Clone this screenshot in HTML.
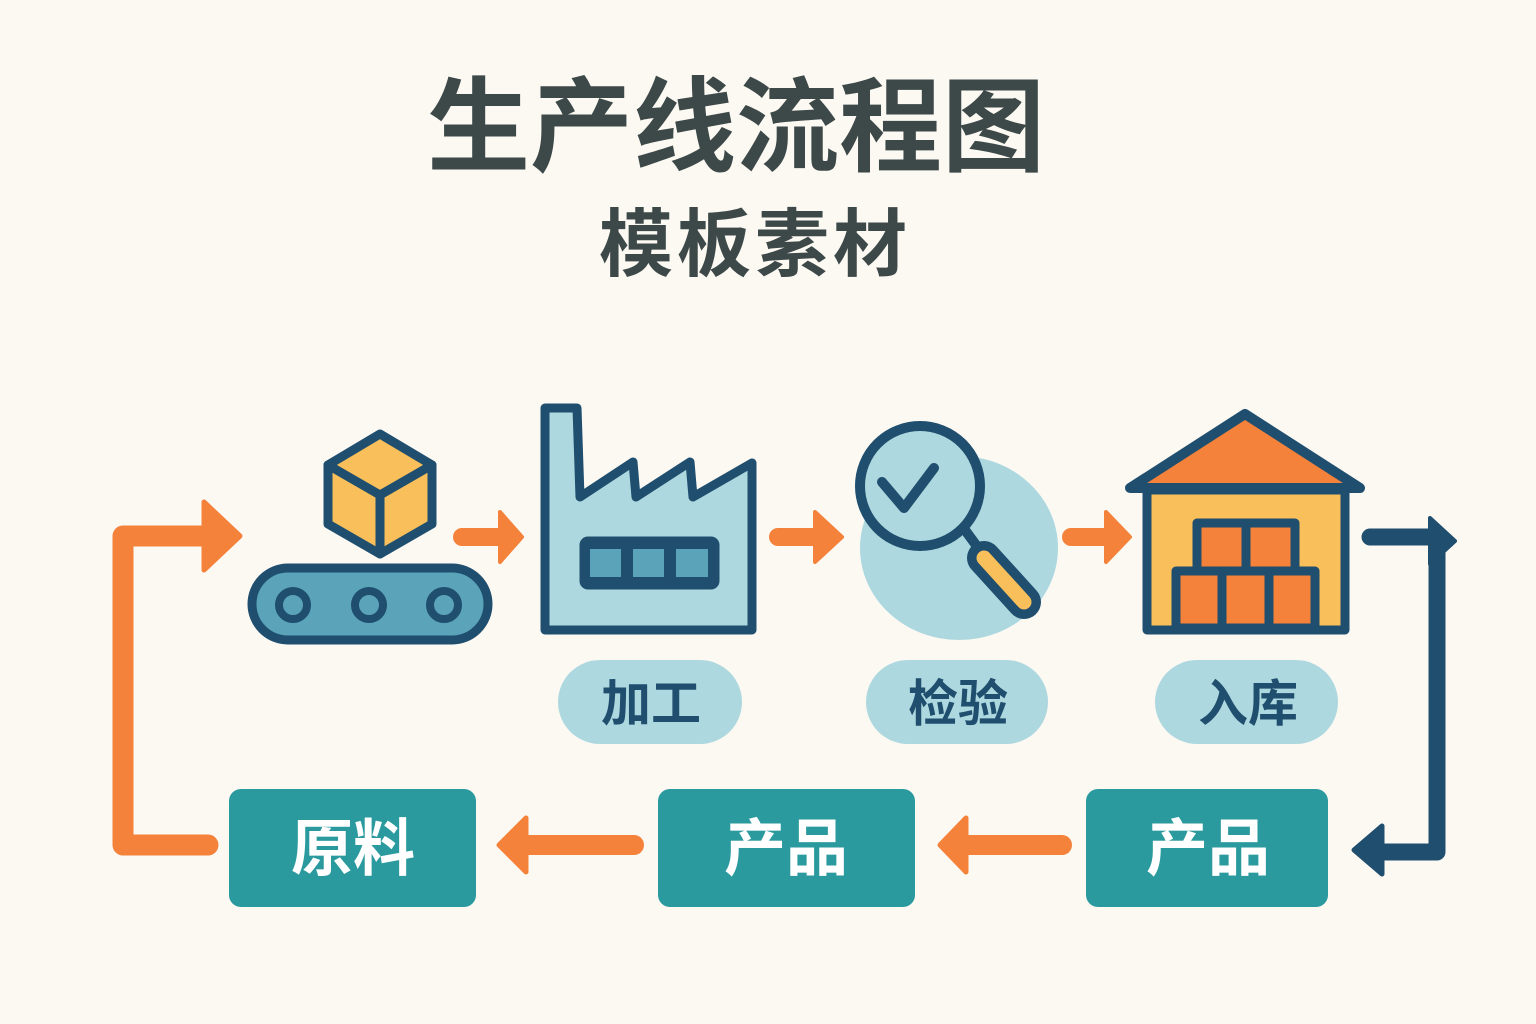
<!DOCTYPE html>
<html><head><meta charset="utf-8"><style>
html,body{margin:0;padding:0;background:#fcf9f3;}
svg{display:block;}
text{font-family:"Liberation Sans","Noto Sans CJK SC",sans-serif;font-weight:bold;}
</style></head><body>
<svg width="1536" height="1024" viewBox="0 0 1536 1024" xmlns="http://www.w3.org/2000/svg">
<rect width="1536" height="1024" fill="#fcf9f3"/>
<text x="736" y="163" font-size="103" fill="#3d4848" text-anchor="middle">生产线流程图</text>
<text x="755" y="270" font-size="74" fill="#3d4848" text-anchor="middle" letter-spacing="4">模板素材</text>

<!-- conveyor + box -->
<g stroke="#1f4e6e" stroke-linejoin="round" stroke-linecap="round">
<rect x="252" y="568" width="236" height="72" rx="36" fill="#5aa3b8" stroke-width="9"/>
<g fill="#5aa3b8" stroke-width="8"><circle cx="293" cy="605" r="14"/><circle cx="369" cy="605" r="14"/><circle cx="444" cy="605" r="14"/></g>
<polygon points="380,434 432,465 432,524 380,554 328,524 328,465" fill="#f9bf5a" stroke-width="9"/>
<polyline points="328,465 380,495 432,465" fill="none" stroke-width="9"/>
<line x1="380" y1="495" x2="380" y2="554" stroke-width="9"/>
</g>

<!-- factory -->
<g stroke="#1f4e6e" stroke-linejoin="round" stroke-width="9">
<polygon points="545,408 577,408 580,497 633,462 636,497 690,462 693,497 752,463 752,630 545,630" fill="#aed8df"/>
<rect x="584" y="541" width="131" height="44" rx="4" fill="#1f4e6e"/>
<g fill="#5aa3b8" stroke="none"><rect x="590" y="549" width="31" height="28"/><rect x="633" y="549" width="31" height="28"/><rect x="676" y="549" width="32" height="28"/></g>
</g>

<!-- magnifier -->
<ellipse cx="959" cy="548" rx="99" ry="92" fill="#aed8df"/>
<g stroke="#1f4e6e" stroke-linecap="round" stroke-linejoin="round">
<circle cx="920" cy="486" r="60" fill="#aed8df" stroke-width="10"/>
<polyline points="882,482 904,508 934,468" fill="none" stroke-width="10"/>
<line x1="965" y1="530" x2="976" y2="545" stroke-width="10"/>
<line x1="984" y1="558" x2="1024" y2="602" stroke-width="34"/>
<line x1="984" y1="558" x2="1024" y2="602" stroke="#f9bf5a" stroke-width="15"/>
</g>

<!-- warehouse -->
<g stroke="#1f4e6e" stroke-linejoin="round" stroke-width="9">
<rect x="1147" y="490" width="198" height="140" fill="#f9bf5a"/>
<polygon points="1245,414 1360,488 1130,488" fill="#f4823a" stroke-width="10"/>
<g fill="#f4823a">
<rect x="1197" y="523" width="98" height="48" />
<line x1="1246" y1="523" x2="1246" y2="571"/>
<rect x="1176" y="571" width="139" height="57"/>
<line x1="1222" y1="571" x2="1222" y2="628"/><line x1="1269" y1="571" x2="1269" y2="628"/>
</g>
</g>

<!-- orange arrows top -->
<g stroke="#f4823a" stroke-width="18" stroke-linecap="round" fill="#f4823a">
<line x1="462" y1="537" x2="505" y2="537"/>
<line x1="778" y1="537" x2="822" y2="537"/>
<line x1="1071" y1="537" x2="1113" y2="537"/>
</g>
<g fill="#f4823a" stroke="#f4823a" stroke-width="4" stroke-linejoin="round">
<polygon points="500,512 522,537 500,562"/>
<polygon points="815,512 842,537 815,562"/>
<polygon points="1106,512 1130,537 1106,562"/>
</g>

<!-- left loop -->
<polyline points="208,845 123,845 123,536 205,536" fill="none" stroke="#f4823a" stroke-width="21" stroke-linejoin="round" stroke-linecap="round"/>
<polygon points="204,502 240,536 204,570" fill="#f4823a" stroke="#f4823a" stroke-width="5" stroke-linejoin="round"/>

<!-- right loop dark -->
<polyline points="1370,537 1437,537 1437,852 1385,852" fill="none" stroke="#1f4e6e" stroke-width="17" stroke-linejoin="round" stroke-linecap="round"/>
<polygon points="1430,518 1455,541 1430,564" fill="#1f4e6e" stroke="#1f4e6e" stroke-width="4" stroke-linejoin="round"/>
<polygon points="1382,826 1354,850 1382,874" fill="#1f4e6e" stroke="#1f4e6e" stroke-width="5" stroke-linejoin="round"/>

<!-- bottom orange arrows -->
<g stroke="#f4823a" stroke-width="20" stroke-linecap="round">
<line x1="1062" y1="845" x2="960" y2="845"/>
<line x1="634" y1="845" x2="520" y2="845"/>
</g>
<g fill="#f4823a" stroke="#f4823a" stroke-width="5" stroke-linejoin="round">
<polygon points="966,818 940,845 966,872"/>
<polygon points="526,818 499,845 526,872"/>
</g>

<!-- pills -->
<g fill="#aed8df">
<rect x="558" y="660" width="184" height="84" rx="42"/>
<rect x="866" y="660" width="182" height="84" rx="42"/>
<rect x="1155" y="660" width="183" height="84" rx="42"/>
</g>
<g font-size="50" fill="#1f4e6e" text-anchor="middle">
<text x="651" y="721">加工</text>
<text x="958" y="721">检验</text>
<text x="1248" y="721">入库</text>
</g>

<!-- boxes -->
<g fill="#2a9a9e">
<rect x="229" y="789" width="247" height="118" rx="12"/>
<rect x="658" y="789" width="257" height="118" rx="12"/>
<rect x="1086" y="789" width="242" height="118" rx="12"/>
</g>
<g font-size="62" fill="#ffffff" text-anchor="middle">
<text x="353" y="870">原料</text>
<text x="786" y="870">产品</text>
<text x="1208" y="870">产品</text>
</g>
</svg>
</body></html>
